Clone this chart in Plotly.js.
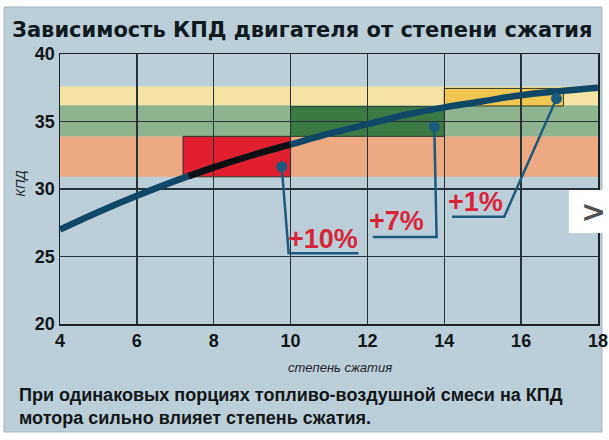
<!DOCTYPE html>
<html>
<head>
<meta charset="utf-8">
<script src="https://cdn.plot.ly/plotly-3.0.1.min.js"></script>
<style>
  html, body { margin: 0; padding: 0; background: #ffffff; }
  #chart { width: 609px; height: 440px; }
</style>
</head>
<body>
<div id="chart"></div>
<script>
// степень сжатия -> КПД
const ratio = [4, 5, 6, 7, 8, 9, 10, 11, 12, 13, 14, 15, 16, 17, 18];
const kpd = [27.0, 28.3, 29.5, 30.6, 31.6, 32.5, 33.3, 34.1, 34.8, 35.5, 36.05, 36.5, 36.95, 37.25, 37.5];

// горизонтальные полосы на всю ширину
const bandLow = [30.9, 33.9, 36.2];
const bandHigh = [33.9, 36.2, 37.6];
const bandColors = ['#eca982', '#8fb38e', '#f4e3a3'];

// выделенные прямоугольники
const boxX0 = [7.2, 10, 14];
const boxX1 = [10, 14, 17.1];
const boxY0 = [30.9, 33.9, 36.15];
const boxY1 = [33.9, 36.1, 37.45];
const boxColors = ['#e0202e', '#3c7a45', '#f1c752'];

// выноски
const gainText = ['+10%', '+7%', '+1%'];
const gainDotX = [9.77, 13.74, 16.92];
const gainDotY = [31.65, 34.6, 36.7];
const gainElbowX = [9.95, 13.8, 15.56];
const gainElbowY = [25.25, 26.45, 27.95];
const gainEndX = [11.77, 12.14, 14.2];
const gainLabelX = [10.85, 12.75, 14.8];
const gainLabelY = [26.3, 27.6, 29.05];

const xTicks = [4, 6, 8, 10, 12, 14, 16, 18];
const yTicks = [20, 25, 30, 35, 40];

const sans = '"Liberation Sans", Arial, sans-serif';
const lineBlue = '#0f4767';
const leadBlue = '#1c5b7d';

let traces = [];

// основная кривая
traces.push({
    x: ratio, y: kpd, mode: 'lines', hoverinfo: 'skip',
    line: {color: lineBlue, width: 6.5, shape: 'spline'}
});

// кусок кривой внутри красного прямоугольника - черный
function kpdAt(x) {
    for (let i = 0; i < ratio.length - 1; i++) {
        if (x >= ratio[i] && x <= ratio[i + 1]) {
            let t = (x - ratio[i]) / (ratio[i + 1] - ratio[i]);
            return kpd[i] + t * (kpd[i + 1] - kpd[i]);
        }
    }
    return null;
}
let segX = [boxX0[0] + 0.15], segY = [kpdAt(boxX0[0] + 0.15)];
ratio.forEach((r, i) => {
    if (r > segX[0] && r <= boxX1[0]) { segX.push(r); segY.push(kpd[i]); }
});
traces.push({
    x: segX, y: segY, mode: 'lines', hoverinfo: 'skip',
    line: {color: '#0b0f12', width: 6.5, shape: 'spline'}
});

// линии выносок
for (let i = 0; i < gainText.length; i++) {
    traces.push({
        x: [gainDotX[i], gainElbowX[i], gainEndX[i]],
        y: [gainDotY[i], gainElbowY[i], gainElbowY[i]],
        mode: 'lines', hoverinfo: 'skip',
        line: {color: leadBlue, width: 2.5}
    });
}
traces.push({
    x: gainDotX, y: gainDotY, mode: 'markers', hoverinfo: 'skip',
    marker: {color: leadBlue, size: 11}
});

let shapes = [];
// фон-панель
shapes.push({
    type: 'rect', xref: 'paper', yref: 'paper', layer: 'below',
    x0: -0.104, x1: 1.0074, y0: -0.40, y1: 1.174,
    fillcolor: '#bccfd9', line: {color: '#9fb3be', width: 1}
});
for (let i = 0; i < bandLow.length; i++) {
    shapes.push({
        type: 'rect', xref: 'paper', yref: 'y', layer: 'below',
        x0: 0, x1: 1, y0: bandLow[i], y1: bandHigh[i],
        fillcolor: bandColors[i], line: {width: 0}
    });
}
for (let i = 0; i < boxX0.length; i++) {
    shapes.push({
        type: 'rect', xref: 'x', yref: 'y', layer: 'below',
        x0: boxX0[i], x1: boxX1[i], y0: boxY0[i], y1: boxY1[i],
        fillcolor: boxColors[i], line: {color: '#2b3a2e', width: 1}
    });
}
// кнопка ">" поверх картинки
shapes.push({
    type: 'rect', xref: 'paper', yref: 'paper', layer: 'above',
    x0: 0.946, x1: 1.03, y0: 0.337, y1: 0.496,
    fillcolor: '#ffffff', line: {width: 0}
});

let annotations = gainText.map((t, i) => ({
    x: gainLabelX[i], y: gainLabelY[i], xref: 'x', yref: 'y',
    text: '<b>' + t + '</b>', showarrow: false,
    font: {family: sans, size: 27, color: '#d7263a'}
}));

annotations.push({
    xref: 'paper', yref: 'paper', x: 0.52, y: -0.16, yanchor: 'middle',
    text: '<i>степень сжатия</i>', showarrow: false,
    font: {family: sans, size: 13, color: '#1d2328'}
});
annotations.push({
    xref: 'paper', yref: 'paper', x: -0.09, y: 0.52, textangle: -90,
    text: '<i>КПД</i>', showarrow: false,
    font: {family: sans, size: 13, color: '#1d2328'}
});
annotations.push({
    xref: 'paper', yref: 'paper', x: -0.08, y: -0.22, xanchor: 'left', yanchor: 'top', align: 'left',
    text: '<b>При одинаковых порциях топливо-воздушной смеси на КПД<br>мотора сильно влияет степень сжатия.</b>',
    showarrow: false,
    font: {family: sans, size: 18, color: '#111618'}
});
annotations.push({
    xref: 'paper', yref: 'paper', x: (593 - 60) / 538, y: (324 - 211) / 270,
    xanchor: 'center', yanchor: 'middle',
    text: '<b>&gt;</b>', showarrow: false,
    font: {family: '"DejaVu Sans", sans-serif', size: 30, color: '#505050'}
});

let layout = {
    width: 609, height: 440,
    margin: {l: 60, r: 11, t: 54, b: 116},
    paper_bgcolor: '#ffffff', plot_bgcolor: '#bccfd9',
    showlegend: false,
    title: {
        text: '<b>Зависимость КПД двигателя от степени сжатия</b>',
        x: 12 / 609, xanchor: 'left', y: 1 - 30 / 440, yanchor: 'middle',
        font: {family: '"DejaVu Sans", sans-serif', size: 21, color: '#0f1a20'}
    },
    xaxis: {
        range: [4, 18], tickvals: xTicks, ticktext: xTicks.map(v => '<b>' + v + '</b>'),
        showgrid: true, gridcolor: '#26333a', gridwidth: 1.3,
        showline: true, linecolor: '#1a2227', linewidth: 1.5, mirror: true,
        zeroline: false, ticks: '', fixedrange: true,
        tickfont: {family: sans, size: 18, color: '#111618'}
    },
    yaxis: {
        range: [20, 40], tickvals: yTicks, ticktext: yTicks.map(v => '<b>' + v + '</b>'),
        showgrid: true, gridcolor: '#26333a', gridwidth: 1.3,
        showline: true, linecolor: '#1a2227', linewidth: 1.5, mirror: true,
        zeroline: false, ticks: '', fixedrange: true,
        tickfont: {family: sans, size: 18, color: '#111618'}
    },
    shapes: shapes,
    annotations: annotations
};

Plotly.newPlot('chart', traces, layout, {displayModeBar: false, staticPlot: true});
</script>
</body>
</html>
